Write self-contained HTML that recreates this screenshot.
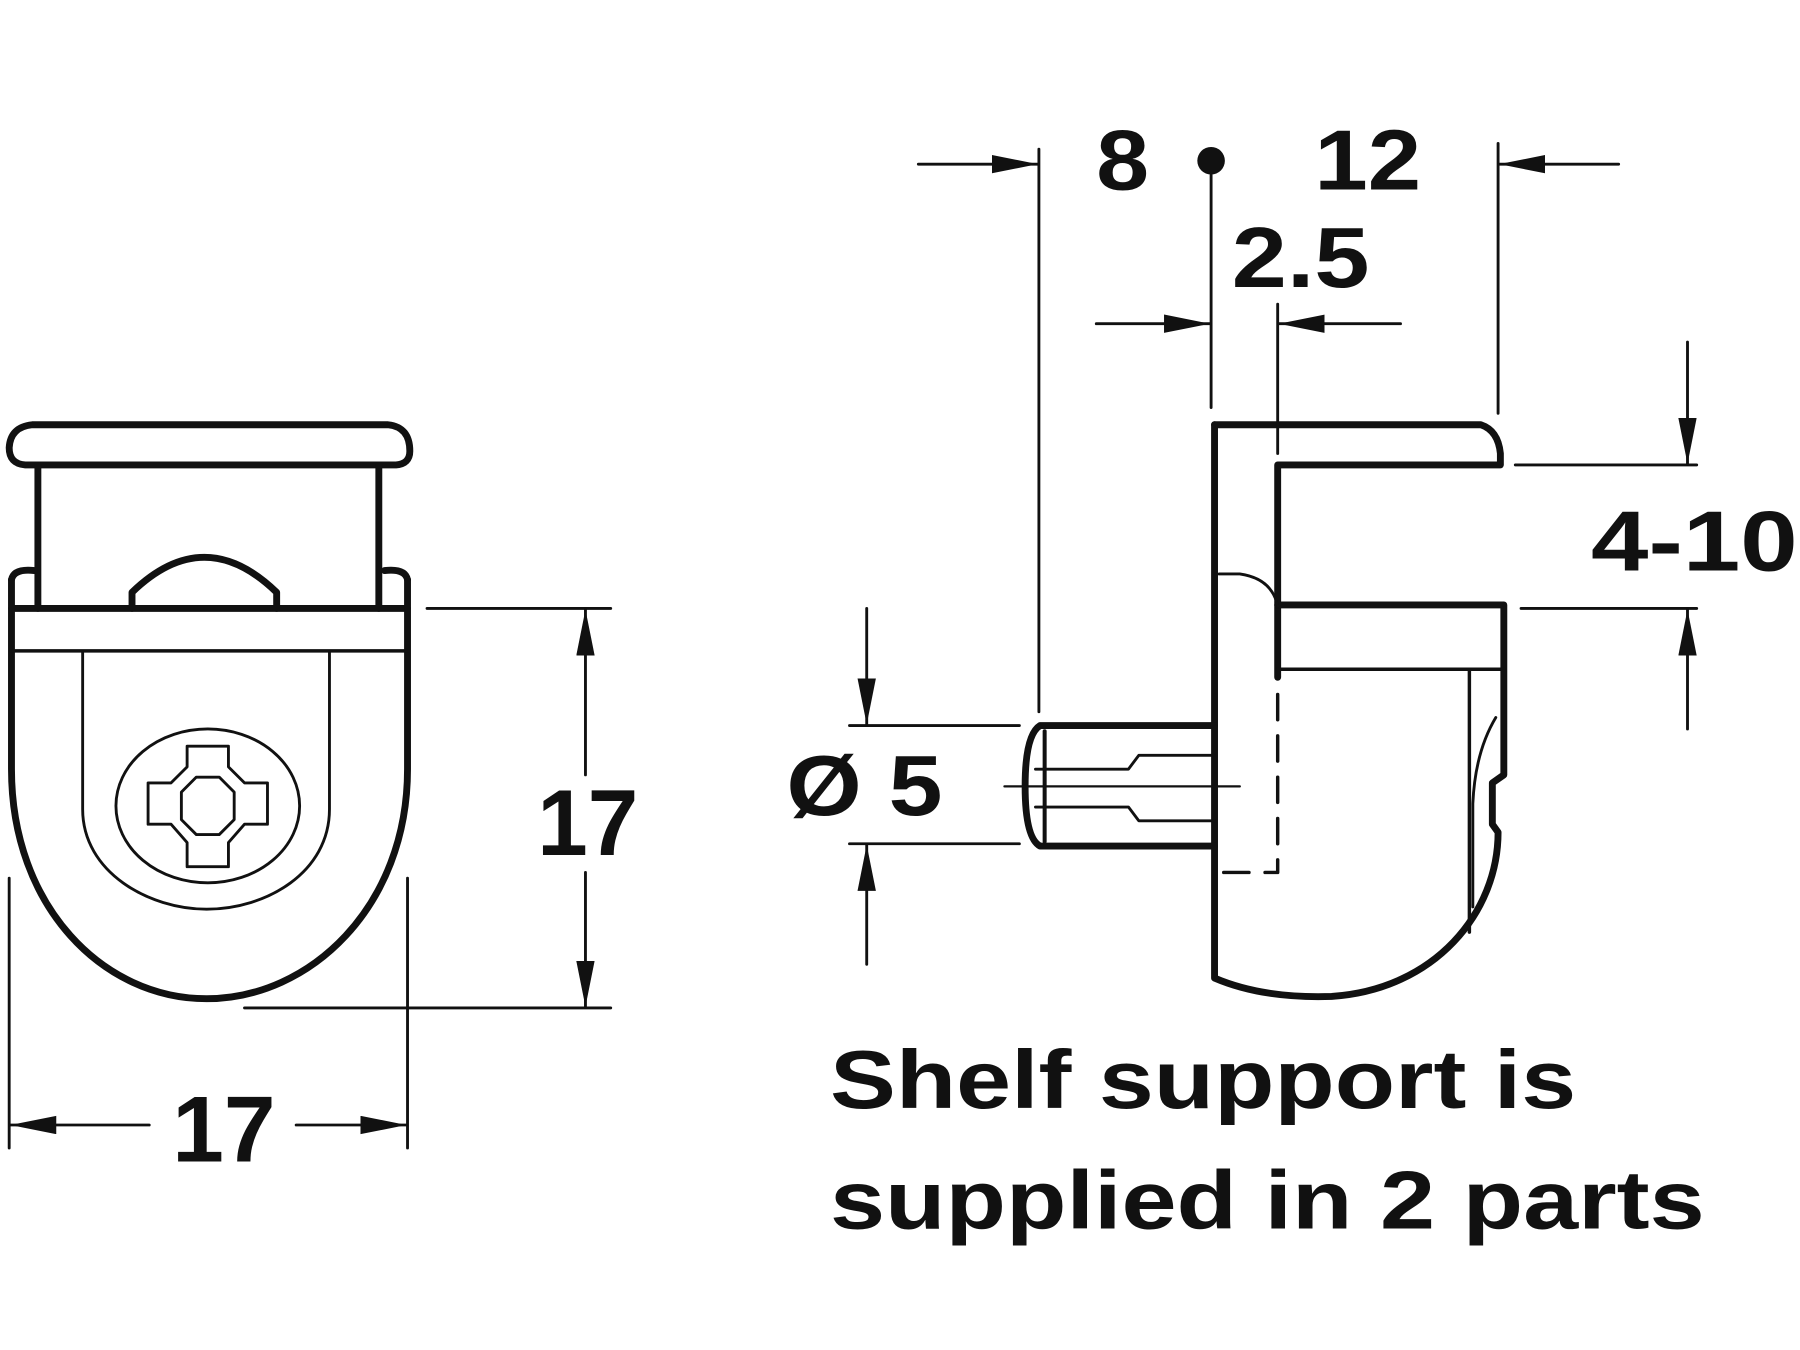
<!DOCTYPE html>
<html><head><meta charset="utf-8"><style>
html,body{margin:0;padding:0;background:#fff;}
svg{display:block;}
text{font-family:"Liberation Sans",Arial,sans-serif;font-weight:bold;fill:#111;}
</style></head><body>
<svg width="1800" height="1350" viewBox="0 0 1568 1176" xmlns="http://www.w3.org/2000/svg">
<defs>
<marker id="a" markerUnits="userSpaceOnUse" markerWidth="42" markerHeight="18" refX="40" refY="8" orient="auto">
<path d="M0,0 L40,8 L0,16 z" fill="#111"/>
</marker>
</defs>
<g fill="none" stroke="#111" stroke-linejoin="round" stroke-linecap="round">
<!-- LEFT VIEW -->
<path stroke-width="6" d="M22,405 L345,405 Q357,404 357,393 Q357,372 338,370 L28,370 Q9,372 8,390 Q8,404 22,405 Z"/>
<path stroke-width="6" d="M33,405 L33,530 M330,405 L330,530"/>
<path stroke-width="6" d="M115,530 L115,516 Q178,455 241,516 L241,530"/>
<path stroke-width="6" d="M10,530 L355,530"/>
<path stroke-width="6" d="M10,505 Q12,495 30,497 M355,505 Q353,495 335,497"/>
<path stroke-width="6" d="M10,505 L10,670 C10,790 90,870 180,870 C270,870 355,790 355,670 L355,505"/>
<path stroke-width="3" d="M10,567 L355,567"/>
<path stroke-width="2.5" d="M72,567 L72,705 C72,760 130,792 180,792 C232,792 287,760 287,705 L287,567"/>
<ellipse stroke-width="2.5" cx="181" cy="702" rx="80" ry="67"/>
<path stroke-width="2.5" d="M163,650 L199,650 L199,668 L213,682 L233,682 L233,718 L213,718 L199,734 L199,755 L163,755 L163,734 L149,718 L129,718 L129,682 L149,682 L163,668 Z"/>
<path stroke-width="2.5" d="M171,677 L191,677 L204,690 L204,714 L191,727 L171,727 L158,714 L158,690 Z"/>
<!-- left dims -->
<g stroke-width="2.5">
<path d="M372,530 L532,530 M213,878 L532,878 M8,765 L8,1000 M355,765 L355,1000"/>
<line x1="510" y1="675" x2="510" y2="531" marker-end="url(#a)"/>
<line x1="510" y1="760" x2="510" y2="877" marker-end="url(#a)"/>
<line x1="130" y1="980" x2="9" y2="980" marker-end="url(#a)"/>
<line x1="258" y1="980" x2="354" y2="980" marker-end="url(#a)"/>
</g>
<!-- RIGHT VIEW -->
<path stroke-width="6" d="M1058,370 L1290,370 Q1305,375 1307,395 L1307,405 L1113,405 L1113,590"/>
<path stroke-width="6" d="M1058,370 L1058,852 Q1100,870 1160,868 C1250,862 1305,795 1305,725 L1300,718 L1300,682 L1310,675 L1310,527 L1113,527"/>
<path stroke-width="3" d="M1113,583 L1310,583 M1280,583 L1280,812"/>
<path stroke-width="2.5" d="M1303,625 Q1285,655 1283,700 L1283,790"/>
<path stroke-width="2.5" d="M1062,500 L1080,500 Q1108,504 1113,528"/>
<path stroke-width="3" stroke-dasharray="22,14" d="M1113,605 L1113,760 L1060,760"/>
<!-- pin -->
<path stroke-width="6" d="M1058,632 L906,632 Q893,640 893,685 Q893,730 906,737 L1058,737"/>
<path stroke-width="3.5" d="M910,637 L910,733"/>
<path stroke-width="2.5" d="M1058,658 L992,658 L983,670 L902,670 M902,703 L983,703 L992,715 L1058,715"/>
<path stroke-width="2" d="M875,685 L1080,685"/>
<!-- right dims -->
<g stroke-width="2.5">
<path d="M905,130 L905,620 M1055,140 L1055,355 M1305,125 L1305,360 M1113,265 L1113,395"/>
<line x1="800" y1="143" x2="904" y2="143" marker-end="url(#a)"/>
<line x1="1410" y1="143" x2="1306" y2="143" marker-end="url(#a)"/>
<line x1="955" y1="282" x2="1054" y2="282" marker-end="url(#a)"/>
<line x1="1220" y1="282" x2="1114" y2="282" marker-end="url(#a)"/>
<path d="M740,632 L888,632 M740,735 L888,735"/>
<line x1="755" y1="530" x2="755" y2="631" marker-end="url(#a)"/>
<line x1="755" y1="840" x2="755" y2="736" marker-end="url(#a)"/>
<path d="M1320,405 L1478,405 M1325,530 L1478,530"/>
<line x1="1470" y1="298" x2="1470" y2="404" marker-end="url(#a)"/>
<line x1="1470" y1="635" x2="1470" y2="531" marker-end="url(#a)"/>
</g>
</g>
<circle cx="1055" cy="140" r="12" fill="#111"/>
<text x="468" y="745" font-size="82" textLength="88" lengthAdjust="spacingAndGlyphs">17</text>
<text x="150" y="1012" font-size="82" textLength="90" lengthAdjust="spacingAndGlyphs">17</text>
<text x="955" y="165" font-size="74" textLength="46" lengthAdjust="spacingAndGlyphs">8</text>
<text x="1145" y="165" font-size="74" textLength="93" lengthAdjust="spacingAndGlyphs">12</text>
<text x="1073" y="250" font-size="74" textLength="120" lengthAdjust="spacingAndGlyphs">2.5</text>
<text x="685" y="710" font-size="74" textLength="136" lengthAdjust="spacingAndGlyphs">Ø 5</text>
<text x="1386" y="497" font-size="74" textLength="180" lengthAdjust="spacingAndGlyphs">4-10</text>
<text x="723" y="965" font-size="72" textLength="650" lengthAdjust="spacingAndGlyphs">Shelf support is</text>
<text x="723" y="1070" font-size="72" textLength="762" lengthAdjust="spacingAndGlyphs">supplied in 2 parts</text>
</svg>
</body></html>
